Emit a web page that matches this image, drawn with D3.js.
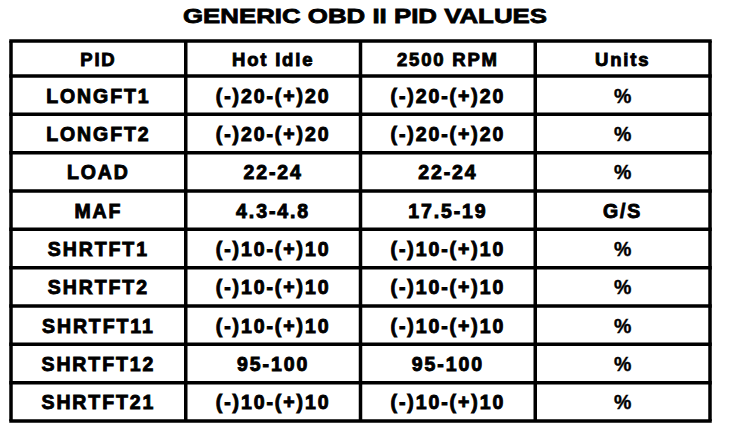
<!DOCTYPE html>
<html lang="en">
<head>
    <meta charset="UTF-8">
    <title>Generic OBD II PID Values</title>
    <script src="https://d3js.org/d3.v7.min.js"></script>
    <style>
        body { margin: 0; background: #fff; }
        text { font-family: "Liberation Sans", Arial, sans-serif; font-weight: bold; fill: #000; }
    </style>
</head>
<body>
    <svg id="chart" width="736" height="430"></svg>

    <script>
        // Table contents
        const title = "GENERIC OBD II PID VALUES";
        const columns = ["PID", "Hot Idle", "2500 RPM", "Units"];
        const pids = ["LONGFT1", "LONGFT2", "LOAD", "MAF", "SHRTFT1", "SHRTFT2", "SHRTFT11", "SHRTFT12", "SHRTFT21"];
        const hotIdle = ["(-)20-(+)20", "(-)20-(+)20", "22-24", "4.3-4.8", "(-)10-(+)10", "(-)10-(+)10", "(-)10-(+)10", "95-100", "(-)10-(+)10"];
        const rpm2500 = ["(-)20-(+)20", "(-)20-(+)20", "22-24", "17.5-19", "(-)10-(+)10", "(-)10-(+)10", "(-)10-(+)10", "95-100", "(-)10-(+)10"];
        const units = ["%", "%", "%", "G/S", "%", "%", "%", "%", "%"];

        const rows = pids.map((p, i) => [p, hotIdle[i], rpm2500[i], units[i]]);

        const svg = d3.select("#chart");

        // layout
        const tLeft = 11, tRight = 710, tTop = 41, headBottom = 76, tBottom = 421;

        const x = d3.scaleBand().domain(d3.range(columns.length)).range([tLeft, tRight]);
        const y = d3.scaleBand().domain(d3.range(rows.length)).range([headBottom, tBottom]);

        // title
        svg.append("text")
            .attr("x", 365)
            .attr("y", 23)
            .attr("text-anchor", "middle")
            .attr("font-size", 21)
            .attr("textLength", 364)
            .attr("lengthAdjust", "spacingAndGlyphs")
            .attr("stroke", "#000")
            .attr("stroke-width", 0.8)
            .text(title);

        // header text
        svg.selectAll(".head")
            .data(columns)
            .enter()
            .append("text")
            .attr("class", "head")
            .attr("x", (d, i) => x(i) + x.bandwidth() / 2)
            .attr("y", (tTop + headBottom) / 2 + 7)
            .attr("text-anchor", "middle")
            .attr("font-size", 18.5)
            .attr("letter-spacing", 1.8)
            .attr("stroke", "#000")
            .attr("stroke-width", 0.9)
            .text(d => d);

        // body cells
        const rowG = svg.selectAll(".row")
            .data(rows)
            .enter()
            .append("g")
            .attr("class", "row")
            .attr("transform", (d, i) => `translate(0,${y(i) + y.bandwidth() / 2 + 7.5})`);

        rowG.selectAll("text")
            .data(d => d)
            .enter()
            .append("text")
            .attr("x", (d, i) => x(i) + x.bandwidth() / 2)
            .attr("text-anchor", "middle")
            .attr("font-size", 19.5)
            .attr("letter-spacing", d => d === "%" ? 0 : 1.9)
            .attr("stroke", "#000")
            .attr("stroke-width", d => d === "%" ? 0.4 : 0.9)
            .text(d => d);

        // grid lines
        const lines = svg.append("g").attr("stroke", "#000").attr("stroke-width", 3.5);

        const hPos = [tTop, headBottom].concat(d3.range(rows.length).map(i => y(i) + y.bandwidth()));
        lines.selectAll(".h")
            .data(hPos)
            .enter()
            .append("line")
            .attr("x1", tLeft - 1.75)
            .attr("x2", tRight + 1.75)
            .attr("y1", d => d)
            .attr("y2", d => d);

        const vPos = d3.range(columns.length).map(i => x(i)).concat([tRight]);
        lines.selectAll(".v")
            .data(vPos)
            .enter()
            .append("line")
            .attr("y1", tTop)
            .attr("y2", tBottom)
            .attr("x1", d => d)
            .attr("x2", d => d);
    </script>
</body>
</html>
